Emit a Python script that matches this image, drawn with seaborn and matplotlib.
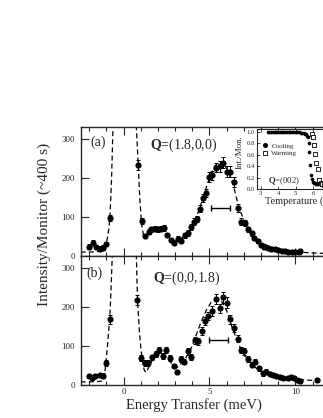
import numpy as np
import pandas as pd
import matplotlib
matplotlib.use("Agg")
import matplotlib.pyplot as plt
import seaborn as sns
from matplotlib.ticker import MultipleLocator, FormatStrFormatter
from matplotlib.lines import Line2D

# ---------------- data ----------------
# panel (a) Q=(1.8,0,0)
ea = [-2.0, -1.8, -1.6, -1.4, -1.2, -1.0, -0.8,
      0.85, 1.05, 1.25, 1.45, 1.6, 1.8, 2.0, 2.15, 2.35,
      2.55, 2.75, 2.95, 3.15, 3.35, 3.55, 3.75, 3.95,
      4.1, 4.3, 4.45, 4.6, 4.8, 5.0, 5.15, 5.4, 5.6, 5.8,
      6.0, 6.2, 6.4, 6.65, 6.85, 7.05, 7.25, 7.45, 7.6, 7.8,
      8.0, 8.2, 8.4, 8.6, 8.8, 9.0, 9.2, 9.4, 9.6, 9.8,
      10.0, 10.2, 10.3]
ia = [24, 34, 23, 19, 21, 31, 97,
      233, 90, 51, 62, 68, 70, 68, 70, 71,
      54, 41, 32, 44, 39, 53, 59, 74,
      88, 95, 121, 148, 162, 202, 206, 226, 229, 239,
      216, 216, 189, 122, 88, 85, 68, 58, 46, 38,
      28, 24, 20, 18, 17, 15, 14, 13, 11, 11,
      9, 10, 12]
erra = [6, 6, 6, 6, 6, 6, 8,
        12, 8, 6, 7, 7, 7, 7, 7, 7,
        6, 6, 5, 6, 6, 6, 7, 7,
        8, 8, 9, 10, 10, 12, 12, 12, 13, 14,
        13, 13, 12, 10, 8, 8, 7, 7, 6, 6,
        5, 5, 5, 5, 5, 5, 5, 5, 5, 5,
        5, 5, 5]
# fit curve (a), two branches around the elastic line
fa_left_e = [-2.5, -2.0, -1.5, -1.2, -1.05, -0.95, -0.85, -0.8, -0.7, -0.62, -0.5]
fa_left_i = [10, 10, 11, 14, 22, 45, 72, 97, 200, 330, 480]
fa_right_e = [0.6, 0.74, 0.85, 0.95, 1.05, 1.15, 1.25, 1.4, 1.6, 1.9, 2.2, 2.5, 2.8,
              3.0, 3.2, 3.5, 3.8, 4.1, 4.4, 4.7, 5.0, 5.3, 5.6, 5.8, 6.1, 6.4, 6.7,
              7.0, 7.3, 7.6, 8.0, 8.5, 9.0, 9.5, 10.0, 10.5, 11.0, 11.5, 12.0, 12.5]
fa_right_i = [480, 330, 233, 140, 80, 55, 48, 54, 64, 69, 67, 58, 44,
              38, 40, 50, 65, 88, 118, 160, 200, 230, 242, 238, 215, 180, 125,
              92, 68, 50, 35, 24, 18, 14, 11, 9, 8, 7, 6, 6]

# panel (b) Q=(0,0,1.8)
eb = [-2.0, -1.85, -1.65, -1.4, -1.2, -1.0, -0.8,
      0.8, 1.03, 1.22, 1.42, 1.65, 1.88, 2.08, 2.29, 2.48,
      2.68, 2.91, 3.1, 3.34, 3.53, 3.72, 3.94,
      4.13, 4.36, 4.56, 4.75, 4.94, 5.17, 5.37, 5.62, 5.81, 6.01,
      6.2, 6.44, 6.65, 6.84, 7.03, 7.27, 7.46, 7.65, 7.88, 8.1,
      8.3, 8.53, 8.72, 8.9, 9.1, 9.3, 9.55, 9.72, 9.92, 10.1,
      10.3, 11.24]
ib = [23, 19, 23, 26, 24, 56, 168,
      218, 69, 56, 56, 71, 80, 90, 75, 90,
      69, 49, 33, 66, 60, 86, 72,
      114, 112, 138, 164, 177, 189, 220, 196, 224, 211,
      168, 146, 118, 90, 86, 66, 52, 60, 43, 30,
      34, 28, 26, 23, 21, 19, 18, 20, 17, 14,
      10, 13]
errb = [6, 6, 6, 6, 6, 7, 12,
        13, 8, 7, 7, 7, 8, 8, 8, 8,
        7, 6, 6, 7, 7, 8, 7,
        9, 9, 10, 11, 11, 12, 13, 12, 13, 13,
        11, 10, 9, 8, 8, 7, 7, 7, 6, 6,
        6, 5, 5, 5, 5, 5, 5, 5, 5, 5,
        5, 5]
fb_left_e = [-2.5, -2.0, -1.5, -1.25, -1.15, -1.05, -0.95, -0.85, -0.8, -0.72, -0.66, -0.55]
fb_left_i = [8, 8, 9, 10, 12, 50, 95, 150, 175, 260, 330, 480]
fb_right_e = [0.6, 0.74, 0.81, 0.9, 1.0, 1.1, 1.2, 1.3, 1.4, 1.6, 1.8, 2.0, 2.3, 2.6,
              2.9, 3.1, 3.3, 3.6, 3.9, 4.2, 4.5, 4.8, 5.1, 5.4, 5.7, 6.0, 6.3,
              6.6, 6.9, 7.2, 7.6, 8.0, 8.5, 9.0, 9.5, 10.0, 10.5, 11.0, 11.5, 12.0, 12.5]
fb_right_i = [480, 330, 218, 150, 95, 60, 38, 32, 40, 58, 72, 80, 78, 65,
              50, 45, 52, 68, 90, 125, 160, 190, 212, 220, 215, 190, 150,
              115, 85, 65, 47, 35, 26, 21, 17, 15, 13, 12, 11, 10, 10]

# resolution bars (center, half-width, height)
res_a = (5.65, 0.56, 123)
res_b = (5.53, 0.57, 116)

# inset: order parameter Q=(002)
t_cool = [3.40, 3.50, 3.60, 3.70, 3.80, 3.90, 4.00, 4.10, 4.20, 4.30, 4.40,
          4.50, 4.60, 4.70, 4.80, 4.90, 5.00, 5.10, 5.20, 5.30, 5.40, 5.50,
          5.55, 5.60, 5.65, 5.70, 5.75, 5.80, 5.85, 5.90, 5.95, 6.00, 6.05,
          6.10, 6.15, 6.20, 6.30, 6.40, 6.50, 6.60, 6.70]
v_cool = [1.00, 1.00, 1.00, 1.00, 1.00, 1.00, 1.00, 1.00, 1.00, 1.00, 1.00,
          1.00, 1.00, 1.00, 1.00, 0.99, 0.99, 0.99, 0.99, 0.98, 0.98, 0.97,
          0.96, 0.95, 0.93, 0.90, 0.80, 0.64, 0.41, 0.25, 0.17, 0.13, 0.11,
          0.10, 0.09, 0.09, 0.08, 0.08, 0.07, 0.07, 0.07]
t_warm = [5.95, 6.00, 6.05, 6.12, 6.20, 6.27, 6.35, 6.45, 6.55, 6.65]
v_warm = [0.96, 0.91, 0.76, 0.61, 0.45, 0.35, 0.15, 0.10, 0.08, 0.07]

# ---------------- style ----------------
sns.set_style("ticks")
plt.rcParams["font.family"] = ["Liberation Serif", "DejaVu Serif"]
plt.rcParams["mathtext.fontset"] = "custom"
plt.rcParams["mathtext.rm"] = "Liberation Serif"
plt.rcParams["mathtext.bf"] = "Liberation Serif:bold"
plt.rcParams["axes.linewidth"] = 1.0

fig = plt.figure(figsize=(3.23, 4.18), dpi=100)
fig.patch.set_facecolor("white")

axA = fig.add_axes([0.2498, 0.3876, 0.7975, 0.3086])
axB = fig.add_axes([0.2498, 0.0789, 0.7975, 0.3086])

dash = (0, (4, 2.5))


def draw_panel(ax, e, i, err, le, li, re, ri, res):
    df_fit = pd.DataFrame({
        "E": le + re,
        "I": li + ri,
        "seg": ["L"] * len(le) + ["R"] * len(re),
    })
    sns.lineplot(data=df_fit, x="E", y="I", units="seg", estimator=None,
                 sort=False, color="black", lw=0.9, linestyle=dash, ax=ax,
                 legend=False)
    ax.errorbar(e, i, yerr=err, fmt="none", ecolor="black", elinewidth=0.7,
                capsize=1.6, capthick=0.7, zorder=3)
    sns.scatterplot(x=e, y=i, color="black", s=20, linewidth=0, ax=ax,
                    zorder=4, legend=False)
    c, hw, h = res
    ax.errorbar([c], [h], xerr=[hw], fmt="none", ecolor="black",
                elinewidth=1.0, capsize=2.2, capthick=1.0, zorder=3)
    ax.set_xlim(-2.5, 12.5)
    ax.set_ylim(0, 330)
    ax.set_xlabel("")
    ax.set_ylabel("")
    ax.xaxis.set_major_locator(MultipleLocator(5))
    ax.xaxis.set_minor_locator(MultipleLocator(1))
    ax.yaxis.set_major_locator(MultipleLocator(100))
    ax.tick_params(which="both", direction="in", top=True, right=True,
                   width=0.8, labelsize=6.5, pad=4)
    ax.tick_params(axis="x", pad=2.5)
    ax.tick_params(which="major", length=6)
    ax.tick_params(which="minor", length=3)


draw_panel(axA, ea, ia, erra, fa_left_e, fa_left_i, fa_right_e, fa_right_i, res_a)
draw_panel(axB, eb, ib, errb, fb_left_e, fb_left_i, fb_right_e, fb_right_i, res_b)
axA.tick_params(labelbottom=False)

axA.text(0.036, 0.885, "(a)", transform=axA.transAxes, fontsize=10,
         ha="left", va="center")
axB.text(0.024, 0.87, "(b)", transform=axB.transAxes, fontsize=10,
         ha="left", va="center")
axA.text(0.269, 0.86, r"$\mathbf{Q}$=(1.8,0,0)", transform=axA.transAxes,
         fontsize=10, ha="left", va="center")
axB.text(0.279, 0.827, r"$\mathbf{Q}$=(0,0,1.8)", transform=axB.transAxes,
         fontsize=10, ha="left", va="center")

fig.text(44 / 323, 1 - 224 / 418, "Intensity/Monitor (~400 s)", rotation=90,
         ha="center", va="center", fontsize=11)
fig.text(194 / 323, 1 - 398.5 / 418, "Energy Transfer (meV)",
         ha="center", va="top", fontsize=10.5)

# ---------------- inset ----------------
axI = fig.add_axes([0.7966, 0.5478, 0.261, 0.1428])
axI.set_facecolor("white")
sns.scatterplot(x=t_cool, y=v_cool, color="black", s=7, linewidth=0,
                marker="o", ax=axI, zorder=3, legend=False)
sns.scatterplot(x=t_warm, y=v_warm, facecolor="white", edgecolor="black",
                s=7, linewidth=0.6, marker="s", ax=axI, zorder=4, legend=False)
axI.set_xlim(2.8, 7.65)
axI.set_ylim(0, 1.04)
axI.xaxis.set_major_locator(MultipleLocator(1))
axI.yaxis.set_major_locator(MultipleLocator(0.2))
axI.yaxis.set_major_formatter(FormatStrFormatter("%.1f"))
axI.tick_params(which="both", direction="in", top=True, right=True,
                width=0.6, length=2.5, labelsize=4.8, pad=1.5)
for s in axI.spines.values():
    s.set_linewidth(0.8)
axI.set_xlabel("Temperature (K)", fontsize=7.5, labelpad=0.5)
axI.set_ylabel("Int./Mon.", fontsize=6.5)
axI.yaxis.set_label_coords(-0.16, 0.62)

handles = [
    Line2D([], [], marker="o", ls="none", color="black", markersize=2.6),
    Line2D([], [], marker="s", ls="none", markerfacecolor="white",
           markeredgecolor="black", markeredgewidth=0.6, markersize=2.6),
]
axI.legend(handles, ["Cooling", "Warming"], loc="center left",
           bbox_to_anchor=(0.06, 0.66), frameon=False, fontsize=5,
           handlelength=0.8, handletextpad=0.5, labelspacing=0.25,
           borderpad=0, borderaxespad=0)
axI.text(0.127, 0.13, r"$\mathbf{Q}$=(002)", transform=axI.transAxes,
         fontsize=6.2, ha="left", va="center")

fig.savefig("out.png", dpi=100)
